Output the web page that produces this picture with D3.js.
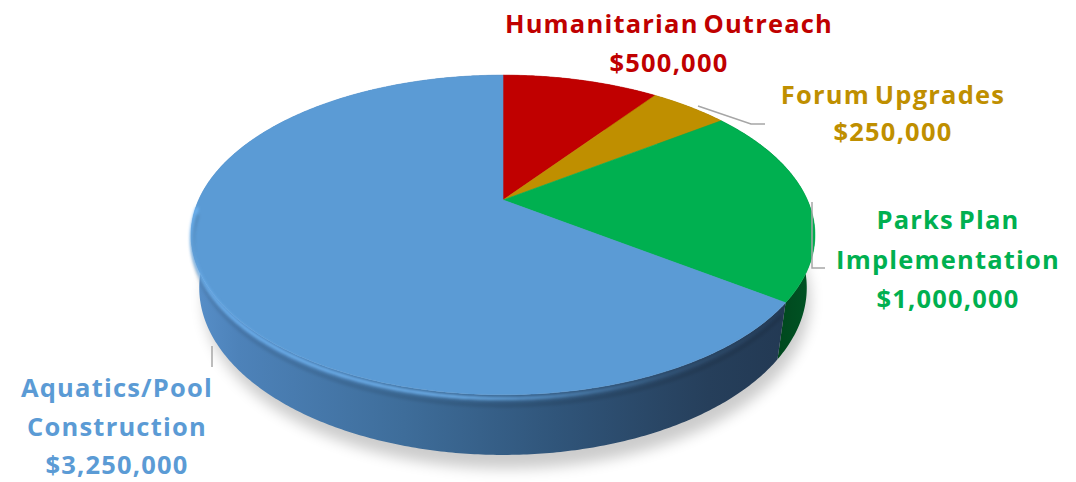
<!DOCTYPE html>
<html>
<head>
<meta charset="utf-8">
<script src="https://cdn.jsdelivr.net/npm/d3@7/dist/d3.min.js"></script>
<style>
  html, body { margin: 0; padding: 0; background: #ffffff; }
  svg { display: block; }
  text { font-family: "Open Sans", "Liberation Sans", sans-serif; font-weight: 700; }
</style>
</head>
<body>
<svg id="chart" width="1076" height="482"></svg>
<script>
// Budget allocation, in dollars
const categories = ["Humanitarian Outreach", "Forum Upgrades", "Parks Plan Implementation", "Aquatics/Pool Construction"];
const amounts = [500000, 250000, 1000000, 3250000];
const labelLines = [
  ["Humanitarian Outreach"],
  ["Forum Upgrades"],
  ["Parks Plan", "Implementation"],
  ["Aquatics/Pool", "Construction"]
];
const topColors = ["#C00000", "#BF8F00", "#00B050", "#5B9BD5"];
const textColors = ["#C00000", "#BF8F00", "#00B050", "#5B9BD5"];

const svg = d3.select("#chart");
const defs = svg.append("defs");

// --- perspective camera for a tilted cylinder (unit radius) ---
const cx = 503, cy = 200;          // screen position of the pie centre
const tilt = 30 * Math.PI / 180;   // elevation of the camera
const camDist = 3.959;             // camera distance in radii
const focal = 1205;                // focal length in px
const depth = 0.203;               // thickness of the pie in radii
const sT = Math.sin(tilt), cT = Math.cos(tilt);

// theta: clockwise from the far side of the pie; y: 0 = top face, -depth = bottom
function project(theta, y) {
  const X = Math.sin(theta), Z = -Math.cos(theta);
  const sv = Z * sT - y * cT;
  const dist = camDist - (Z * cT + y * sT);
  return [cx + focal * X / dist, cy + focal * sv / dist];
}
function arcPoints(a0, a1, y) {
  const n = Math.max(4, Math.ceil((a1 - a0) / 0.01));
  return d3.range(n + 1).map(i => project(a0 + (a1 - a0) * i / n, y));
}
const line = d3.line();

const pie = d3.pie().sort(null).value(d => d)(amounts);

// --- drop shadow under the pie ---
const shadowBlur = defs.append("filter").attr("id", "shadowBlur")
  .attr("x", "-20%").attr("y", "-20%").attr("width", "140%").attr("height", "140%");
shadowBlur.append("feGaussianBlur").attr("stdDeviation", 7);
svg.append("path")
  .attr("d", line(arcPoints(0, 2 * Math.PI, -depth - 0.02)) + "Z")
  .attr("transform", "translate(4,8)")
  .attr("fill", "#000").attr("opacity", 0.2)
  .attr("filter", "url(#shadowBlur)");

// --- side walls ---
const blueWall = defs.append("linearGradient").attr("id", "blueWall")
  .attr("gradientUnits", "userSpaceOnUse").attr("x1", 190).attr("x2", 800).attr("y1", 0).attr("y2", 0);
[[0, "#5890ca"], [0.08, "#4d82b9"], [0.35, "#3e6d9a"], [0.6, "#30557a"], [0.85, "#263f5b"], [1, "#223852"]]
  .forEach(([o, c]) => blueWall.append("stop").attr("offset", o).attr("stop-color", c));
const greenWall = defs.append("linearGradient").attr("id", "greenWall")
  .attr("gradientUnits", "userSpaceOnUse").attr("x1", 770).attr("x2", 815).attr("y1", 0).attr("y2", 0);
[[0, "#00451c"], [1, "#005525"]]
  .forEach(([o, c]) => greenWall.append("stop").attr("offset", o).attr("stop-color", c));
const wallFill = ["#7a0000", "#7a5b00", "url(#greenWall)", "url(#blueWall)"];

svg.append("g").selectAll("path")
  .data(pie)
  .join("path")
  .attr("d", d => {
    const top = arcPoints(d.startAngle, d.endAngle, 0);
    const bot = arcPoints(d.startAngle, d.endAngle, -depth).reverse();
    return line(top.concat(bot)) + "Z";
  })
  .attr("fill", (d, i) => wallFill[i]);

// --- top faces ---
svg.append("g").selectAll("path")
  .data(pie)
  .join("path")
  .attr("d", d => line([[cx, cy]].concat(arcPoints(d.startAngle, d.endAngle, 0))) + "Z")
  .attr("fill", (d, i) => topColors[i])
  .attr("stroke", (d, i) => topColors[i]).attr("stroke-width", 0.6);

// bevel highlight along the front rim of the top face
const rimBlur = defs.append("filter").attr("id", "rimBlur")
  .attr("x", "-5%").attr("y", "-20%").attr("width", "110%").attr("height", "140%");
rimBlur.append("feGaussianBlur").attr("stdDeviation", 1.6);
const rimGrad = defs.append("linearGradient").attr("id", "rimGrad")
  .attr("gradientUnits", "userSpaceOnUse").attr("x1", 190).attr("x2", 790).attr("y1", 0).attr("y2", 0);
[[0, "#6fb4f2", 0.95], [0.45, "#72b6f3", 0.95], [0.8, "#5b9bd5", 0.2], [1, "#5b9bd5", 0]]
  .forEach(([o, c, a]) => rimGrad.append("stop").attr("offset", o).attr("stop-color", c).attr("stop-opacity", a));
const aqua = pie[3];
const rimEnd = 268 * Math.PI / 180;
svg.append("path")
  .attr("d", line(arcPoints(aqua.startAngle + 0.05, rimEnd, -0.012)))
  .attr("fill", "none").attr("stroke", "url(#rimGrad)").attr("stroke-width", 3.2)
  .attr("stroke-linecap", "round")
  .attr("filter", "url(#rimBlur)");
// darker rounding just below the rim
svg.append("path")
  .attr("d", line(arcPoints(aqua.startAngle + 0.02, rimEnd, -0.035)))
  .attr("fill", "none").attr("stroke", "#000").attr("stroke-opacity", 0.1).attr("stroke-width", 4)
  .attr("filter", "url(#rimBlur)");

// --- leader lines ---
const leaders = [
  null,
  [[698, 106], [751, 124], [765, 124]],
  [[812, 202], [812, 268], [825, 268]],
  [[212, 346], [212, 367]]
];
svg.append("g").selectAll("path")
  .data(leaders.filter(d => d))
  .join("path")
  .attr("d", d => line(d))
  .attr("fill", "none").attr("stroke", "#a6a6a6").attr("stroke-width", 1.5);

// --- labels ---
const fmt = v => "$" + d3.format(",")(v);
const labelPos = [
  { x: 669, y: 33, gap: 38.5 },
  { x: 893, y: 104, gap: 37 },
  { x: 948, y: 229, gap: 39.5 },
  { x: 117, y: 397, gap: 38.5 }
];
const labels = svg.append("g").selectAll("text")
  .data(categories)
  .join("text")
  .attr("text-anchor", "middle")
  .attr("font-size", 25.5)
  .attr("letter-spacing", 1.2)
  .attr("word-spacing", -3)
  .attr("fill", (d, i) => textColors[i])
  .attr("x", (d, i) => labelPos[i].x)
  .attr("y", (d, i) => labelPos[i].y);
labels.each(function (d, i) {
  const t = d3.select(this);
  const rows = labelLines[i].concat([fmt(amounts[i])]);
  rows.forEach((r, k) => {
    t.append("tspan")
      .attr("x", labelPos[i].x)
      .attr("dy", k === 0 ? 0 : labelPos[i].gap)
      .text(r);
  });
});
</script>
</body>
</html>
